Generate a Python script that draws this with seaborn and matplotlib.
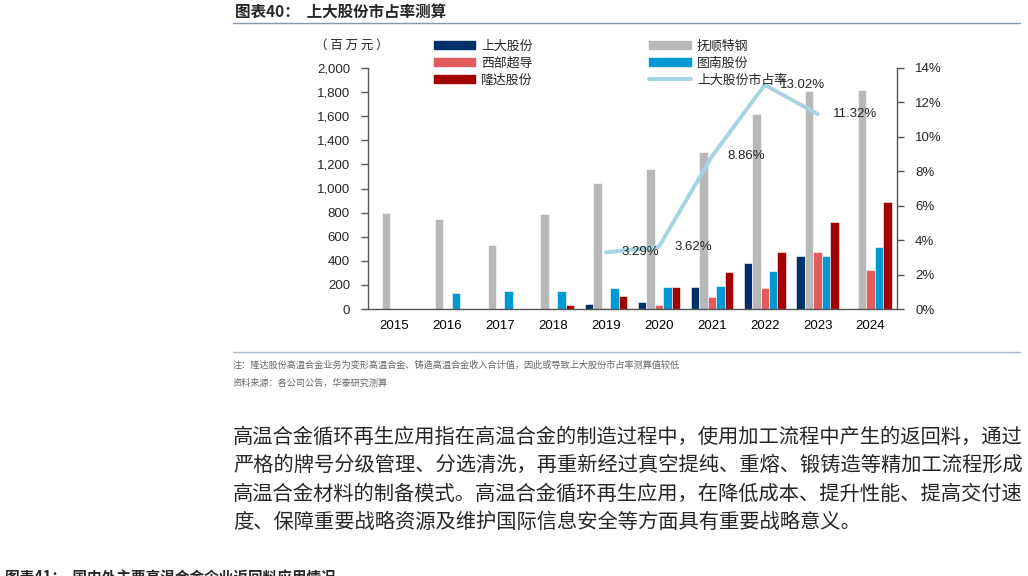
import pandas as pd
import numpy as np
import matplotlib
matplotlib.use('Agg')
import matplotlib.pyplot as plt
import seaborn as sns
from matplotlib.patches import Patch
from matplotlib.lines import Line2D
from matplotlib.ticker import FuncFormatter

sns.set_style('white')
plt.rcParams['font.family'] = ['Liberation Sans', 'Noto Sans CJK SC', 'DejaVu Sans']
plt.rcParams['axes.unicode_minus'] = False

# 数据
years = ['2015', '2016', '2017', '2018', '2019', '2020', '2021', '2022', '2023', '2024']
companies = ['上大股份', '抚顺特钢', '西部超导', '图南股份', '隆达股份']
shangda = [0, 0, 0, 0, 41, 55, 181, 384, 436, 0]
fushun = [798, 750, 535, 790, 1048, 1160, 1300, 1615, 1805, 1815]
xibu = [0, 0, 0, 0, 8, 30, 96, 178, 470, 321]
tunan = [0, 130, 148, 152, 178, 181, 192, 315, 436, 518]
longda = [0, 0, 0, 32, 107, 181, 304, 472, 718, 891]
share_years = ['2019', '2020', '2021', '2022', '2023']
share = [3.29, 3.62, 8.86, 13.02, 11.32]
line_name = '上大股份市占率'

colors = ['#003069', '#B8B8B8', '#E35B5D', '#0099D3', '#A30000']
line_color = '#A8D3E2'
cjk = ['Noto Sans CJK SC', 'DejaVu Sans']

df = pd.DataFrame({'year': years, '上大股份': shangda, '抚顺特钢': fushun,
                   '西部超导': xibu, '图南股份': tunan, '隆达股份': longda})
long = df.melt(id_vars='year', var_name='company', value_name='amount')

fig = plt.figure(figsize=(10.28, 5.76), dpi=100)
ax = fig.add_axes([368 / 1028, 1 - 309 / 576, (897 - 368) / 1028, (309 - 68) / 576])

sns.barplot(data=long, x='year', y='amount', hue='company', order=years,
            hue_order=companies, palette=colors, width=0.8, saturation=1,
            edgecolor='white', linewidth=0.4, legend=False, ax=ax)

ax.set_ylim(0, 2000)
ax.set_xlim(-0.5, len(years) - 0.5)
ax.set_yticks(np.arange(0, 2001, 200))
ax.yaxis.set_major_formatter(FuncFormatter(lambda v, p: f'{int(v):,}'))
ax.set_xlabel('')
ax.set_ylabel('')
ax.set_xticks(range(len(years)))
ax.set_xticklabels(years)
ax.set_xticks(np.arange(-0.5, len(years), 1), minor=True)
ax.tick_params(axis='x', which='major', length=0, labelsize=9.5, pad=8, colors='#000000')
ax.tick_params(axis='x', which='minor', length=5, width=1, color='#555555', direction='out')
ax.tick_params(axis='y', length=5, width=1, color='#555555', direction='out', labelsize=9.5, pad=8)
ax.spines['top'].set_visible(False)
ax.spines['right'].set_visible(False)
for s in ['left', 'bottom']:
    ax.spines[s].set_color('#555555')
    ax.spines[s].set_linewidth(1)

ax2 = ax.twinx()
xpos = [years.index(y) for y in share_years]
sns.lineplot(x=xpos, y=share, color=line_color, linewidth=2.8, ax=ax2)
ax2.set_ylim(0, 14)
ax2.set_xlim(-0.5, len(years) - 0.5)
ax2.set_yticks(np.arange(0, 15, 2))
ax2.yaxis.set_major_formatter(FuncFormatter(lambda v, p: f'{int(v)}%'))
ax2.tick_params(axis='y', length=5, width=1, color='#555555', direction='out', labelsize=9.5, pad=8)
for s in ['top', 'left', 'bottom']:
    ax2.spines[s].set_visible(False)
ax2.spines['right'].set_color('#555555')
ax2.spines['right'].set_linewidth(1)
for xp, v in zip(xpos, share):
    ax2.annotate(f'{v:.2f}%', (xp, v), xytext=(11, 0), textcoords='offset points',
                 ha='left', va='center', fontsize=9.5)

# 图例
handles = [Patch(color=colors[0]), Patch(color=colors[2]), Patch(color=colors[4]),
           Patch(color=colors[1]), Patch(color=colors[3]),
           Line2D([0], [0], color=line_color, lw=2.8)]
labels = ['上大股份', '西部超导', '隆达股份', '抚顺特钢', '图南股份', line_name]
fig.legend(handles, labels, ncol=2, loc='upper left', bbox_to_anchor=(422 / 1028, 1 - 28 / 576),
           frameon=False, handlelength=3.2, handleheight=0.55, handletextpad=0.5,
           columnspacing=9.0, labelspacing=0.3, prop={'family': cjk, 'size': 9.3})

# 文字
fig.text(235 / 1028, 1 - 13 / 576, '图表40：  上大股份市占率测算', fontsize=11.2,
         fontweight='bold', family=cjk, va='center', ha='left')
fig.add_artist(Line2D([233 / 1028, 1020 / 1028], [1 - 23 / 576] * 2, color='#8497B0', lw=1))
fig.text(352 / 1028, 1 - 45 / 576, '（ 百 万 元 ）', fontsize=9, family=cjk, va='center', ha='center')

fig.add_artist(Line2D([233 / 1028, 1020 / 1028], [1 - 352 / 576] * 2, color='#A9B8C8', lw=1))
fig.text(233 / 1028, 1 - 365 / 576,
         '注：隆达股份高温合金业务为变形高温合金、铸造高温合金收入合计值，因此或导致上大股份市占率测算值较低',
         fontsize=6.6, color='#666666', family=cjk, va='center', ha='left')
fig.text(233 / 1028, 1 - 383 / 576, '资料来源：各公司公告，华泰研究测算',
         fontsize=6.6, color='#666666', family=cjk, va='center', ha='left')

para = ['高温合金循环再生应用指在高温合金的制造过程中，使用加工流程中产生的返回料，通过',
        '严格的牌号分级管理、分选清洗，再重新经过真空提纯、重熔、锻铸造等精加工流程形成',
        '高温合金材料的制备模式。高温合金循环再生应用，在降低成本、提升性能、提高交付速',
        '度、保障重要战略资源及维护国际信息安全等方面具有重要战略意义。']
for i, line in enumerate(para):
    fig.text(233 / 1028, 1 - (437 + i * 28.6) / 576, line, fontsize=14.6, family=cjk,
             va='center', ha='left')

fig.text(5 / 1028, 1 - 569 / 576, '图表41：  国内外主要高温合金企业返回料应用情况', fontsize=10.5,
         fontweight='bold', family=cjk, va='top', ha='left')

fig.savefig('out.png', dpi=100)
